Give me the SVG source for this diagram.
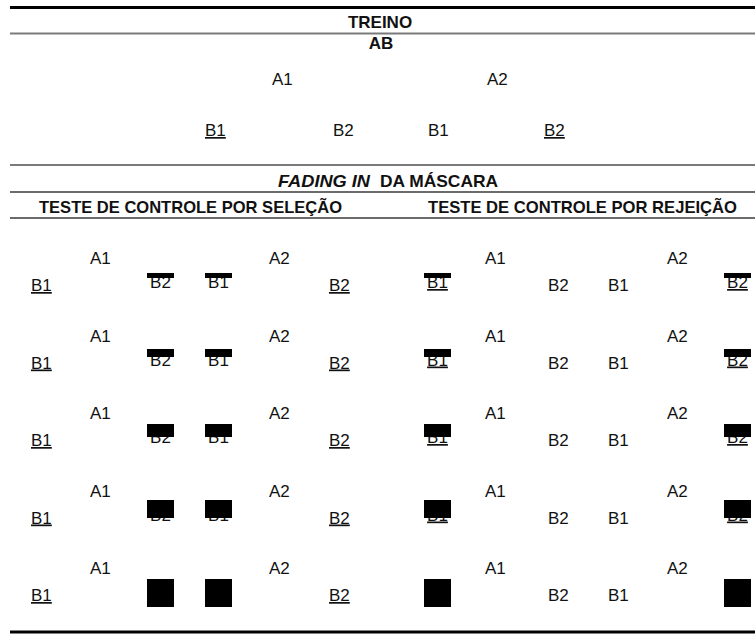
<svg xmlns="http://www.w3.org/2000/svg" width="755" height="634" viewBox="0 0 755 634">
<style>
text{font-family:"Liberation Sans",Arial,sans-serif;fill:#111;}
.h{font-weight:bold;font-size:17px;}
.l{font-size:17px;}
.u{text-decoration:underline;}
.m{text-anchor:middle;}
.rule{stroke:#7a7a7a;stroke-width:2;}
.thin{stroke:#3a3a3a;stroke-width:1.3;}
.thick{stroke:#000;stroke-width:3;}
.mask{fill:#000;}
</style>
<rect width="755" height="634" fill="#fff"/>
<g id="rules">
<line class="thick" x1="10" y1="7.5" x2="755" y2="7.5"/>
<line class="rule" x1="10" y1="33.5" x2="755" y2="33.5"/>
<line class="rule" x1="10" y1="165" x2="755" y2="165"/>
<line class="thin" x1="10" y1="192" x2="755" y2="192"/>
<line class="thin" x1="10" y1="218" x2="755" y2="218"/>
<line class="thick" x1="10" y1="632" x2="755" y2="632"/>
</g>
<g id="treino">
<text class="h m" x="380" y="28">TREINO</text>
<text class="h m" x="381" y="49">AB</text>
<text class="l" x="272" y="85">A1</text>
<text class="l" x="487" y="85">A2</text>
<text class="l u" x="205" y="136">B1</text>
<text class="l" x="333" y="136">B2</text>
<text class="l" x="428" y="136">B1</text>
<text class="l u" x="544" y="136">B2</text>
</g>
<g id="fading-title">
<text class="h" x="278" y="187" font-style="italic" textLength="92" lengthAdjust="spacingAndGlyphs">FADING IN</text>
<text class="h" x="380" y="187" textLength="118" lengthAdjust="spacingAndGlyphs">DA MÁSCARA</text>
<text class="h" x="39" y="213" textLength="303" lengthAdjust="spacingAndGlyphs">TESTE DE CONTROLE POR SELEÇÃO</text>
<text class="h" x="428" y="213" textLength="309" lengthAdjust="spacingAndGlyphs">TESTE DE CONTROLE POR REJEIÇÃO</text>
</g>
<g id="row1">
<text class="l" x="90" y="264">A1</text><text class="l" x="269" y="264">A2</text>
<text class="l" x="485" y="264">A1</text><text class="l" x="667" y="264">A2</text>
<text class="l u" x="31" y="291">B1</text><text class="l u" x="329" y="291">B2</text>
<text class="l" x="548" y="291">B2</text><text class="l" x="608" y="291">B1</text>
<text class="l m" x="160.5" y="288">B2</text><text class="l m" x="218.5" y="288">B1</text>
<text class="l m u" x="437.5" y="288">B1</text><text class="l m u" x="737.5" y="288">B2</text>
<rect class="mask" x="147" y="273" width="27" height="5"/><rect class="mask" x="205" y="273" width="27" height="5"/>
<rect class="mask" x="424" y="273" width="27" height="5"/><rect class="mask" x="724" y="273" width="27" height="5"/>
</g>
<g id="row2">
<text class="l" x="90" y="341.5">A1</text><text class="l" x="269" y="341.5">A2</text>
<text class="l" x="485" y="341.5">A1</text><text class="l" x="667" y="341.5">A2</text>
<text class="l u" x="31" y="368.5">B1</text><text class="l u" x="329" y="368.5">B2</text>
<text class="l" x="548" y="368.5">B2</text><text class="l" x="608" y="368.5">B1</text>
<text class="l m" x="160.5" y="365.5">B2</text><text class="l m" x="218.5" y="365.5">B1</text>
<text class="l m u" x="437.5" y="365.5">B1</text><text class="l m u" x="737.5" y="365.5">B2</text>
<rect class="mask" x="147" y="349" width="27" height="8"/><rect class="mask" x="205" y="349" width="27" height="8"/>
<rect class="mask" x="424" y="349" width="27" height="8"/><rect class="mask" x="724" y="349" width="27" height="8"/>
</g>
<g id="row3">
<text class="l" x="90" y="419">A1</text><text class="l" x="269" y="419">A2</text>
<text class="l" x="485" y="419">A1</text><text class="l" x="667" y="419">A2</text>
<text class="l u" x="31" y="446">B1</text><text class="l u" x="329" y="446">B2</text>
<text class="l" x="548" y="446">B2</text><text class="l" x="608" y="446">B1</text>
<text class="l m" x="160.5" y="443">B2</text><text class="l m" x="218.5" y="443">B1</text>
<text class="l m u" x="437.5" y="443">B1</text><text class="l m u" x="737.5" y="443">B2</text>
<rect class="mask" x="147" y="424" width="27" height="13"/><rect class="mask" x="205" y="424" width="27" height="13"/>
<rect class="mask" x="424" y="424" width="27" height="13"/><rect class="mask" x="724" y="424" width="27" height="13"/>
</g>
<g id="row4">
<text class="l" x="90" y="496.5">A1</text><text class="l" x="269" y="496.5">A2</text>
<text class="l" x="485" y="496.5">A1</text><text class="l" x="667" y="496.5">A2</text>
<text class="l u" x="31" y="523.5">B1</text><text class="l u" x="329" y="523.5">B2</text>
<text class="l" x="548" y="523.5">B2</text><text class="l" x="608" y="523.5">B1</text>
<text class="l m" x="160.5" y="520.5">B2</text><text class="l m" x="218.5" y="520.5">B1</text>
<text class="l m u" x="437.5" y="520.5">B1</text><text class="l m u" x="737.5" y="520.5">B2</text>
<rect class="mask" x="147" y="500" width="27" height="18"/><rect class="mask" x="205" y="500" width="27" height="18"/>
<rect class="mask" x="424" y="500" width="27" height="18"/><rect class="mask" x="724" y="500" width="27" height="18"/>
</g>
<g id="row5">
<text class="l" x="90" y="574">A1</text><text class="l" x="269" y="574">A2</text>
<text class="l" x="485" y="574">A1</text><text class="l" x="667" y="574">A2</text>
<text class="l u" x="31" y="601">B1</text><text class="l u" x="329" y="601">B2</text>
<text class="l" x="548" y="601">B2</text><text class="l" x="608" y="601">B1</text>
<rect class="mask" x="147" y="579" width="27" height="28"/><rect class="mask" x="205" y="579" width="27" height="28"/>
<rect class="mask" x="424" y="579" width="27" height="28"/><rect class="mask" x="724" y="579" width="27" height="28"/>
</g>
</svg>
